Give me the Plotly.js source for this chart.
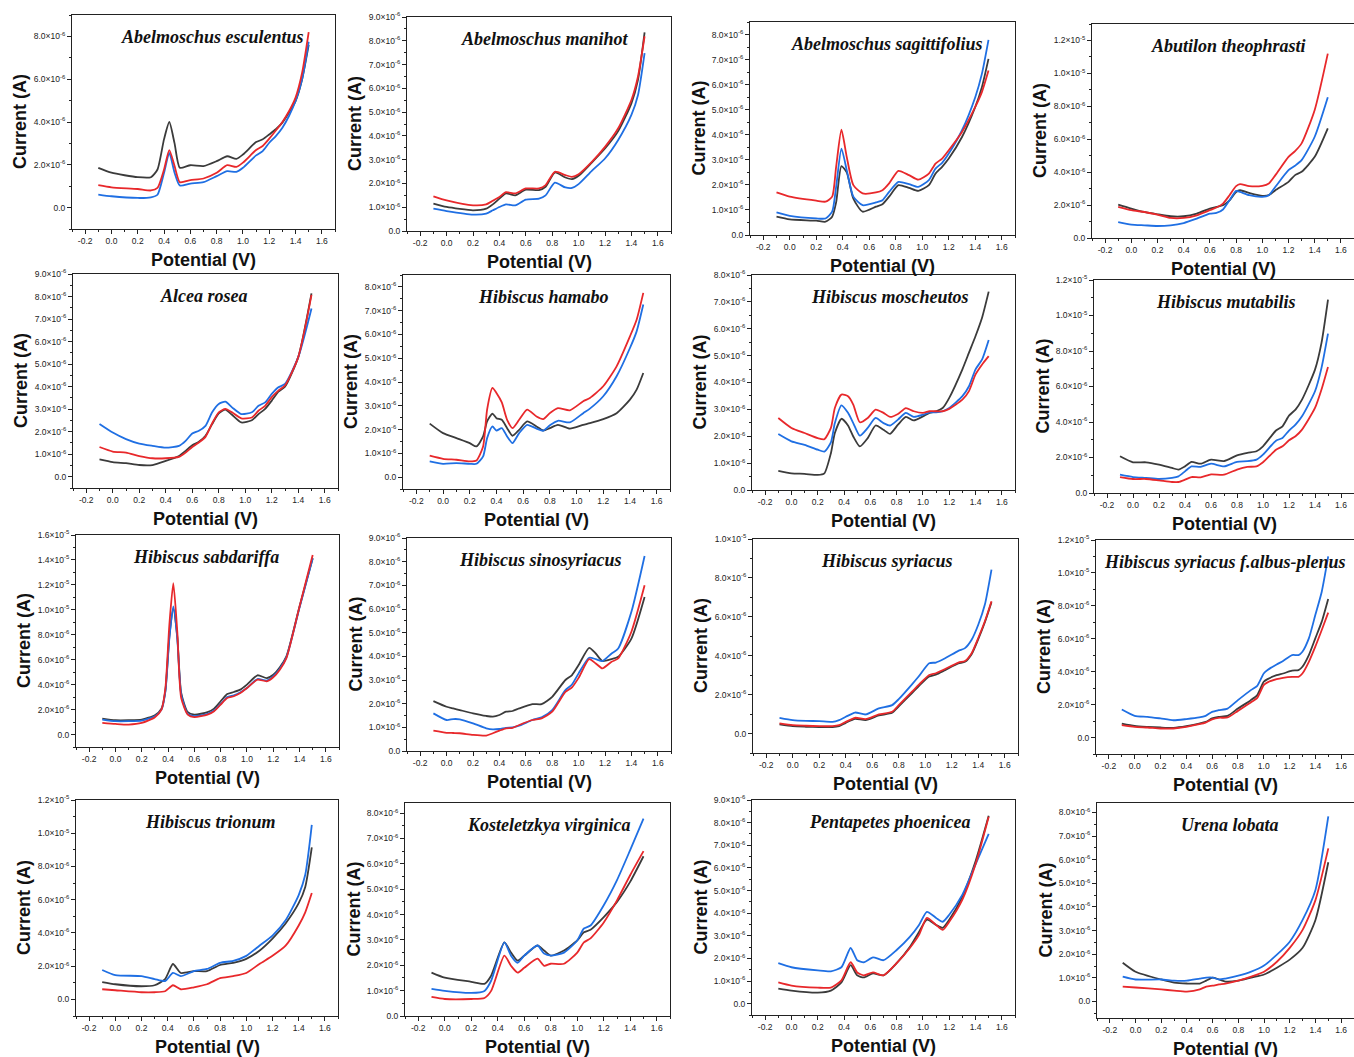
<!DOCTYPE html>
<html>
<head>
<meta charset="utf-8">
<script src="https://cdn.plot.ly/plotly-3.0.1.min.js"></script>
<style>html,body{margin:0;padding:0;background:#fff;}#chart{width:1354px;height:1057px;}</style>
</head>
<body>
<div id="chart"></div>
<script>
// ---- titles and labels ----
const TITLES = ["Abelmoschus esculentus","Abelmoschus manihot","Abelmoschus sagittifolius","Abutilon theophrasti",
  "Alcea rosea","Hibiscus hamabo","Hibiscus moscheutos","Hibiscus mutabilis",
  "Hibiscus sabdariffa","Hibiscus sinosyriacus","Hibiscus syriacus","Hibiscus syriacus f.albus-plenus",
  "Hibiscus trionum","Kosteletzkya virginica","Pentapetes phoenicea","Urena lobata"];
const X_LABEL = "Potential (V)";
const Y_LABEL = "Current (A)";
const X_TICKVALS = [-0.2,0,0.2,0.4,0.6,0.8,1.0,1.2,1.4,1.6];
const X_TICKTEXT = ["-0.2","0.0","0.2","0.4","0.6","0.8","1.0","1.2","1.4","1.6"];

// ---- data: potential (V) and current in units of 1e-6 A; k = black, r = red, b = blue ----
const x1=[-0.1,0,0.2,0.3,0.35,0.4,0.44,0.48,0.52,0.6,0.7,0.8,0.88,0.95,1.0,1.1,1.15,1.2,1.25,1.3,1.35,1.4,1.45,1.5];
const k1=[1.86,1.63,1.42,1.42,1.78,3.2,4.0,3.0,1.86,1.98,1.94,2.17,2.4,2.28,2.48,3.06,3.19,3.42,3.66,3.97,4.44,4.98,6.0,7.6];
const r1=[1.05,0.95,0.87,0.8,0.92,1.78,2.69,1.94,1.19,1.28,1.36,1.63,1.98,1.9,2.1,2.69,2.88,3.22,3.6,4.0,4.5,5.14,6.3,8.2];
const b1=[0.61,0.53,0.45,0.48,0.6,1.63,2.56,1.63,1.03,1.12,1.19,1.47,1.7,1.67,1.86,2.44,2.64,3.03,3.34,3.73,4.28,4.98,6.0,7.75];

const x2=[-0.1,0,0.2,0.3,0.35,0.4,0.45,0.52,0.6,0.7,0.75,0.82,0.9,0.95,1.0,1.1,1.2,1.3,1.4,1.45,1.5];
const k2=[1.15,1.01,0.87,0.94,1.12,1.36,1.58,1.5,1.74,1.72,1.86,2.46,2.25,2.18,2.32,2.88,3.47,4.2,5.37,6.36,8.35];
const r2=[1.46,1.29,1.08,1.12,1.27,1.43,1.63,1.58,1.79,1.79,1.93,2.49,2.35,2.28,2.39,2.91,3.54,4.32,5.51,6.5,8.19];
const b2=[0.94,0.84,0.69,0.73,0.87,1.01,1.12,1.08,1.32,1.36,1.5,2.03,1.83,1.81,1.97,2.53,3.05,3.83,4.88,5.72,7.48];

const x3=[-0.1,0,0.2,0.27,0.32,0.35,0.39,0.43,0.48,0.55,0.65,0.7,0.75,0.82,0.9,0.97,1.05,1.1,1.15,1.2,1.3,1.4,1.45,1.5];
const k3=[0.73,0.62,0.57,0.53,0.73,1.3,2.75,2.5,1.45,0.93,1.13,1.23,1.53,1.99,1.88,1.76,1.99,2.45,2.72,3.05,3.91,5.11,5.9,7.03];
const r3=[1.7,1.53,1.37,1.33,1.53,2.72,4.2,3.12,1.99,1.66,1.7,1.79,2.06,2.56,2.39,2.21,2.45,2.85,3.05,3.38,4.11,5.11,5.7,6.56];
const b3=[0.9,0.76,0.66,0.66,0.93,1.92,3.45,2.59,1.53,1.19,1.3,1.39,1.72,2.12,2.03,1.92,2.19,2.65,2.88,3.25,4.18,5.5,6.43,7.79];

const x4=[-0.1,0,0.1,0.2,0.3,0.4,0.5,0.6,0.65,0.7,0.75,0.8,0.83,0.9,1.0,1.05,1.1,1.2,1.25,1.3,1.4,1.5];
const k4=[2.03,1.79,1.58,1.44,1.32,1.32,1.48,1.79,1.89,1.99,2.29,2.8,2.9,2.74,2.56,2.6,2.9,3.41,3.82,4.02,4.93,6.66];
const r4=[1.89,1.69,1.58,1.42,1.22,1.22,1.38,1.69,1.85,2.09,2.6,3.15,3.27,3.15,3.17,3.31,3.82,4.93,5.28,5.75,7.78,11.2];
const b4=[0.97,0.81,0.77,0.73,0.77,0.91,1.18,1.48,1.52,1.73,2.29,2.86,2.8,2.6,2.5,2.6,3.11,4.12,4.39,4.73,6.15,8.55];

const x5=[-0.1,0,0.1,0.2,0.3,0.4,0.5,0.55,0.6,0.65,0.7,0.75,0.8,0.85,0.9,0.97,1.05,1.1,1.15,1.2,1.25,1.3,1.4,1.5];
const k5=[0.77,0.65,0.6,0.52,0.52,0.7,0.92,1.15,1.4,1.55,1.82,2.34,2.81,2.98,2.75,2.41,2.51,2.78,3.01,3.38,3.78,4.0,5.31,8.14];
const r5=[1.32,1.12,1.07,0.92,0.82,0.82,0.88,1.07,1.32,1.52,1.77,2.37,2.86,3.01,2.86,2.59,2.63,2.93,3.15,3.53,3.82,4.05,5.31,8.07];
const b5=[2.34,1.96,1.67,1.47,1.37,1.29,1.37,1.59,1.92,2.04,2.26,2.86,3.23,3.33,3.08,2.78,2.86,3.15,3.3,3.68,3.97,4.12,5.31,7.47];

const x6=[-0.1,0,0.1,0.2,0.25,0.3,0.33,0.37,0.4,0.44,0.48,0.52,0.57,0.63,0.7,0.75,0.8,0.86,0.95,1.05,1.1,1.2,1.3,1.4,1.45,1.5];
const k6=[2.25,1.85,1.64,1.43,1.29,1.71,2.34,2.67,2.48,2.41,2.06,1.74,1.99,2.34,2.13,1.96,2.06,2.2,2.04,2.2,2.27,2.44,2.69,3.26,3.68,4.38];
const r6=[0.9,0.77,0.73,0.66,0.7,1.29,2.84,3.75,3.54,3.14,2.41,2.06,2.41,2.84,2.55,2.44,2.69,2.9,2.81,3.19,3.33,3.82,4.66,5.92,6.62,7.75];
const b6=[0.66,0.56,0.59,0.56,0.56,0.87,1.64,2.13,1.96,2.06,1.71,1.43,1.85,2.2,2.04,1.95,2.18,2.37,2.3,2.69,2.88,3.4,4.24,5.43,6.13,7.26];

const x7=[-0.1,0,0.1,0.2,0.25,0.3,0.33,0.38,0.43,0.47,0.52,0.58,0.64,0.7,0.75,0.81,0.87,0.93,1.0,1.05,1.1,1.15,1.2,1.3,1.35,1.4,1.45,1.5];
const k7=[0.71,0.62,0.6,0.56,0.62,1.37,2.12,2.65,2.4,1.99,1.62,1.93,2.4,2.24,2.09,2.43,2.72,2.59,2.74,2.87,2.93,3.05,3.43,4.49,5.11,5.73,6.42,7.38];
const r7=[2.68,2.31,2.12,1.93,1.89,2.31,3.05,3.55,3.49,3.18,2.52,2.68,2.99,2.87,2.72,2.83,3.05,2.93,2.87,2.93,2.93,2.93,3.02,3.36,3.68,4.3,4.67,4.98];
const b7=[2.08,1.81,1.68,1.5,1.43,1.77,2.49,3.15,2.87,2.49,2.02,2.31,2.68,2.49,2.4,2.62,2.87,2.72,2.8,2.89,2.89,2.93,3.05,3.49,3.86,4.49,4.86,5.58];

const x8=[-0.1,0,0.1,0.2,0.3,0.35,0.4,0.45,0.52,0.6,0.7,0.8,0.88,0.95,1.0,1.1,1.15,1.2,1.25,1.3,1.4,1.45,1.5];
const k8=[2.07,1.73,1.73,1.6,1.41,1.32,1.5,1.75,1.65,1.88,1.8,2.12,2.26,2.35,2.63,3.52,3.76,4.36,4.7,5.26,6.95,8.46,10.9];
const r8=[0.9,0.79,0.79,0.71,0.62,0.62,0.75,0.9,0.88,1.05,1.03,1.32,1.47,1.5,1.73,2.44,2.63,2.97,3.2,3.57,4.79,5.83,7.1];
const b8=[1.03,0.9,0.85,0.79,0.85,0.94,1.22,1.5,1.47,1.65,1.5,1.75,1.79,1.88,2.16,2.95,3.1,3.52,3.85,4.32,5.73,7.05,8.98];

const x9=[-0.1,0,0.1,0.2,0.3,0.35,0.38,0.41,0.44,0.47,0.5,0.55,0.6,0.7,0.75,0.8,0.85,0.9,0.95,1.0,1.08,1.15,1.2,1.25,1.3,1.4,1.5];
const k9=[1.28,1.15,1.15,1.2,1.55,2.08,3.55,7.87,10.1,7.87,3.33,1.79,1.6,1.79,2.08,2.67,3.25,3.41,3.6,4.0,4.75,4.53,4.8,5.39,6.27,10.27,14.13];
const r9=[0.93,0.85,0.8,0.93,1.39,2.0,3.73,8.8,12.13,8.27,2.93,1.6,1.39,1.6,1.87,2.4,2.93,3.07,3.33,3.73,4.4,4.27,4.59,5.2,6.13,10.27,14.4];
const b9=[1.2,1.07,1.07,1.12,1.47,2.0,3.47,7.73,10.27,7.73,3.2,1.65,1.47,1.65,1.92,2.45,3.01,3.15,3.39,3.73,4.45,4.32,4.67,5.28,6.19,10.19,14.13];

const x10=[-0.1,0,0.05,0.1,0.2,0.3,0.35,0.4,0.45,0.5,0.55,0.65,0.72,0.8,0.9,0.95,1.0,1.08,1.13,1.18,1.25,1.3,1.4,1.5];
const k10=[2.11,1.87,1.8,1.73,1.59,1.48,1.45,1.52,1.66,1.69,1.8,1.98,1.98,2.29,3.0,3.21,3.63,4.36,4.12,3.8,3.88,3.98,4.75,6.51];
const r10=[0.86,0.77,0.76,0.75,0.68,0.65,0.75,0.86,0.96,0.98,1.1,1.31,1.38,1.66,2.5,2.69,3.09,3.88,3.7,3.49,3.77,3.91,5.04,7.0];
const b10=[1.59,1.31,1.35,1.34,1.17,0.96,0.91,0.93,0.98,1.0,1.07,1.31,1.42,1.73,2.57,2.81,3.28,3.94,3.88,3.8,4.12,4.33,5.88,8.24];

const x11=[-0.1,0,0.1,0.2,0.3,0.35,0.4,0.47,0.55,0.65,0.75,0.8,0.9,0.95,1.03,1.08,1.15,1.25,1.3,1.35,1.4,1.45,1.5];
const k11=[0.47,0.38,0.35,0.33,0.33,0.38,0.55,0.76,0.69,0.93,1.07,1.4,2.08,2.43,2.93,3.03,3.26,3.6,3.69,4.08,4.85,5.72,6.75];
const r11=[0.52,0.43,0.4,0.38,0.38,0.43,0.6,0.81,0.74,0.98,1.12,1.46,2.15,2.5,3.01,3.1,3.32,3.65,3.73,4.13,4.91,5.77,6.8];
const b11=[0.81,0.69,0.65,0.64,0.6,0.69,0.86,1.08,0.98,1.29,1.46,1.77,2.53,2.93,3.61,3.65,3.87,4.25,4.39,4.82,5.59,6.63,8.43];

const x12=[-0.1,0,0.1,0.2,0.3,0.4,0.5,0.55,0.6,0.65,0.72,0.8,0.9,0.95,1.0,1.03,1.1,1.15,1.22,1.27,1.3,1.35,1.4,1.45,1.5];
const k12=[0.85,0.71,0.65,0.61,0.59,0.69,0.85,0.95,1.16,1.26,1.32,1.76,2.27,2.58,3.39,3.55,3.79,3.89,4.06,4.1,4.3,5.01,6.02,7.04,8.42];
const r12=[0.75,0.65,0.61,0.55,0.55,0.65,0.81,0.91,1.1,1.2,1.22,1.62,2.13,2.41,3.18,3.35,3.55,3.63,3.69,3.69,3.89,4.6,5.52,6.53,7.59];
const b12=[1.7,1.32,1.26,1.16,1.05,1.12,1.22,1.32,1.56,1.66,1.76,2.27,2.88,3.14,3.89,4.1,4.44,4.65,5.01,5.01,5.21,6.02,7.44,8.86,11.0];

const x13=[-0.1,0,0.2,0.3,0.38,0.44,0.5,0.6,0.7,0.8,0.9,1.0,1.1,1.2,1.3,1.4,1.45,1.5];
const k13=[1.04,0.91,0.79,0.85,1.22,2.13,1.59,1.7,1.7,2.07,2.2,2.44,2.93,3.66,4.57,5.79,6.77,9.15];
const r13=[0.61,0.55,0.43,0.43,0.49,0.85,0.61,0.73,0.91,1.28,1.4,1.59,2.13,2.62,3.23,4.45,5.24,6.4];
const b13=[1.77,1.46,1.4,1.22,1.1,1.59,1.4,1.7,1.83,2.2,2.32,2.62,3.23,3.84,4.76,6.28,7.5,10.5];

const x14=[-0.1,0,0.2,0.3,0.35,0.45,0.5,0.55,0.6,0.7,0.75,0.8,0.9,1.0,1.05,1.1,1.2,1.3,1.4,1.5];
const k14=[1.71,1.51,1.35,1.27,1.59,2.9,2.5,2.18,2.38,2.78,2.58,2.38,2.58,2.98,3.3,3.4,3.9,4.5,5.3,6.3];
const r14=[0.75,0.67,0.67,0.71,0.99,2.38,1.98,1.71,1.9,2.26,1.98,2.06,2.06,2.5,2.9,3.06,3.69,4.56,5.56,6.5];
const b14=[1.07,0.99,0.91,0.99,1.39,2.9,2.38,2.1,2.38,2.78,2.46,2.38,2.5,2.98,3.45,3.57,4.37,5.36,6.55,7.78];

const x15=[-0.1,0,0.2,0.3,0.38,0.45,0.5,0.55,0.62,0.7,0.8,0.9,0.97,1.03,1.1,1.15,1.2,1.3,1.4,1.5];
const k15=[0.67,0.58,0.49,0.58,0.94,1.7,1.25,1.16,1.34,1.25,1.79,2.5,3.17,3.71,3.48,3.35,3.71,4.73,6.29,8.3];
const r15=[0.94,0.8,0.71,0.71,1.03,1.83,1.38,1.25,1.38,1.25,1.79,2.46,3.04,3.79,3.48,3.26,3.62,4.6,6.16,8.26];
const b15=[1.79,1.61,1.47,1.43,1.61,2.46,1.92,1.83,2.05,1.92,2.37,2.95,3.48,4.06,3.79,3.62,3.93,4.82,6.16,7.5];

const x16=[-0.1,0,0.2,0.3,0.4,0.5,0.55,0.6,0.65,0.7,0.8,0.9,1.0,1.1,1.2,1.3,1.4,1.5];
const k16=[1.64,1.26,0.93,0.8,0.76,0.76,0.88,1.01,0.93,0.84,0.88,1.01,1.14,1.43,1.77,2.27,3.45,5.89];
const r16=[0.63,0.59,0.51,0.46,0.42,0.51,0.63,0.67,0.72,0.76,0.88,1.05,1.26,1.68,2.27,3.03,4.29,6.48];
const b16=[1.05,0.93,0.93,0.88,0.88,0.97,1.01,1.01,0.93,0.97,1.09,1.26,1.52,1.98,2.53,3.45,4.72,7.83];

const SERIES = [[x1,k1,r1,b1],[x2,k2,r2,b2],[x3,k3,r3,b3],[x4,k4,r4,b4],
  [x5,k5,r5,b5],[x6,k6,r6,b6],[x7,k7,r7,b7],[x8,k8,r8,b8],
  [x9,k9,r9,b9],[x10,k10,r10,b10],[x11,k11,r11,b11],[x12,k12,r12,b12],
  [x13,k13,r13,b13],[x14,k14,r14,b14],[x15,k15,r15,b15],[x16,k16,r16,b16]];

// y axis: [min, max, tick step, max tick] in units of 1e-6 A
const YAXES = [[-1,9,2,8],[0,9,1,9],[0,8.5,1,8],[0,13,2,12],
  [-0.5,9,1,9],[-0.5,8.5,1,8],[0,8,1,8],[0,12,2,12],
  [-1,16,2,16],[0,9,1,9],[-1,10,2,10],[-1,12,2,12],
  [-1,12,2,12],[0,8.4,1,8],[-0.5,9,1,9],[-0.7,8.4,1,8]];

// ---- layout geometry (pixel boxes: left, right, top, bottom) ----
const W = 1354, H = 1057;
const BOXES = [[72,335,15,229],[407,671,17,231],[750,1015,22,235],[1092,1354,24,238],
  [73,338,274,488],[403,670,275,489],[752,1015,275,490],[1094,1354,280,493],
  [76,339,535,747],[407,671,538,751],[753,1018,539,753],[1096,1354,540,754],
  [76,338,800,1016],[405,670,803,1016],[752,1015,800,1015],[1097,1354,803,1018]];
const TITLE_DX = [9,6,4,5,-2,7,6,2,-2,1,1,0,3,11,6,4];

const COLORS = {k:'#3b3b3b', r:'#e8282b', b:'#1f6fe3'};
const U = 1e-6;

function ylab(v){
  if (v === 0) return "0.0";
  if (v >= 10) return (v/10).toFixed(1) + "×10<sup>-5</sup>";
  return v.toFixed(1) + "×10<sup>-6</sup>";
}

const traces = [];
const layout = {
  width: W, height: H, margin: {l:0,r:0,t:0,b:0},
  paper_bgcolor:'#fff', plot_bgcolor:'#fff', showlegend:false,
  font: {family:'Liberation Sans, Arial, sans-serif', color:'#222'},
  annotations: []
};

SERIES.forEach((s, i) => {
  const n = i + 1;
  const xa = n === 1 ? 'x' : 'x' + n;
  const ya = n === 1 ? 'y' : 'y' + n;
  const [xs, k, r, b] = s;
  [['k',k],['b',b],['r',r]].forEach(([c, arr]) => {
    traces.push({
      type:'scatter', mode:'lines', x: xs, y: arr.map(v => v*U),
      xaxis: xa, yaxis: ya, hoverinfo:'skip',
      line: {color: COLORS[c], width: 1.8, shape:'spline', smoothing: 0.6}
    });
  });
  const [L, R, T, B] = BOXES[i];
  const [ymin, ymax, step, ytop] = YAXES[i];
  const tv = [], tt = [];
  for (let v = 0; v <= ytop + 1e-9; v += step) { tv.push(v*U); tt.push(ylab(Math.round(v*10)/10)); }
  const axCommon = {
    showline:true, linecolor:'#222', linewidth:1, mirror:true,
    showgrid:false, zeroline:false, ticks:'outside', ticklen:4, tickwidth:1, tickcolor:'#222',
    tickfont:{size:8.5, color:'#222', family:'Liberation Sans, Arial, sans-serif'}
  };
  layout['xaxis' + (n===1?'':n)] = Object.assign({}, axCommon, {
    domain:[L/W, R/W], anchor: ya, range:[-0.3, 1.7],
    tickmode:'array', tickvals: X_TICKVALS, ticktext: X_TICKTEXT,
    minor:{ticks:'outside', ticklen:2, tickwidth:1, tickcolor:'#222', dtick:0.1, tick0:0}
  });
  layout['yaxis' + (n===1?'':n)] = Object.assign({}, axCommon, {
    domain:[1 - B/H, 1 - T/H], anchor: xa, range:[ymin*U, ymax*U],
    tickmode:'array', tickvals: tv, ticktext: tt,
    minor:{ticks:'outside', ticklen:2, tickwidth:1, tickcolor:'#222', dtick: step/2*U, tick0:0}
  });
  const xd = xa + ' domain', yd = ya + ' domain';
  layout.annotations.push({
    text: TITLES[i], xref: xd, yref: yd, x: 0.5, y: 1, xanchor:'center', yanchor:'top',
    xshift: TITLE_DX[i], yshift: -10, showarrow:false,
    font:{family:'Liberation Serif, Times New Roman, serif', size:18, weight:'bold', style:'italic', color:'#111'}
  });
  layout.annotations.push({
    text: X_LABEL, xref: xd, yref: yd, x: 0.5, y: 0, xanchor:'center', yanchor:'middle',
    yshift: -31, showarrow:false,
    font:{family:'Liberation Sans, Arial, sans-serif', size:18, weight:'bold', color:'#111'}
  });
  layout.annotations.push({
    text: Y_LABEL, xref: xd, yref: yd, x: 0, y: 0.5, xanchor:'center', yanchor:'middle',
    xshift: -52, textangle: -90, showarrow:false,
    font:{family:'Liberation Sans, Arial, sans-serif', size:18, weight:'bold', color:'#111'}
  });
});

Plotly.newPlot('chart', traces, layout, {displayModeBar:false, staticPlot:true});
</script>
</body>
</html>
